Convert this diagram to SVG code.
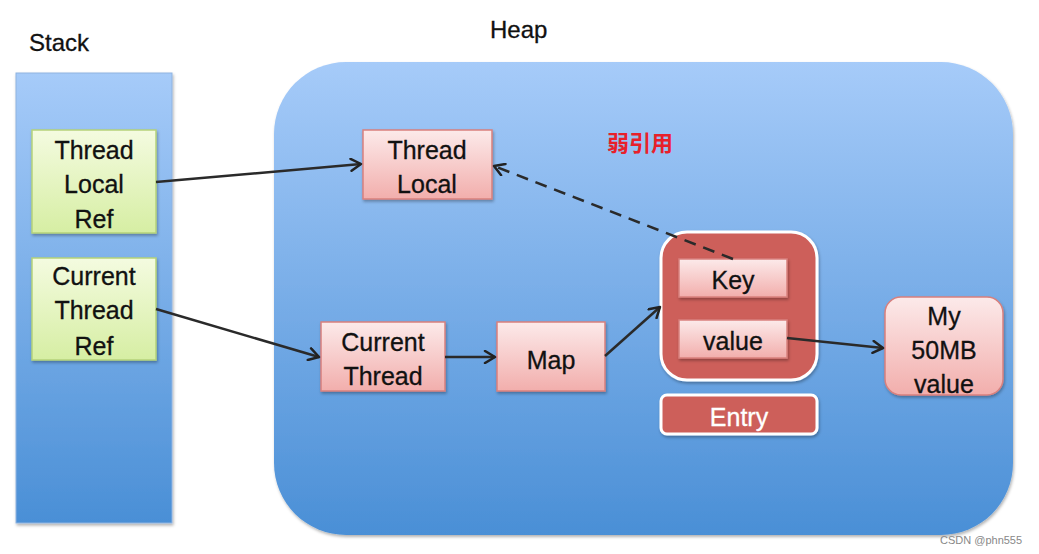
<svg xmlns="http://www.w3.org/2000/svg" width="1039" height="554" viewBox="0 0 1039 554">
<defs>
<linearGradient id="blue" x1="0" y1="0" x2="0" y2="1">
<stop offset="0" stop-color="#a6cbf9"/>
<stop offset="1" stop-color="#4a8fd6"/>
</linearGradient>
<linearGradient id="green" x1="0" y1="0" x2="0" y2="1">
<stop offset="0" stop-color="#f4fbe0"/>
<stop offset="1" stop-color="#d6eea3"/>
</linearGradient>
<linearGradient id="pink" x1="0" y1="0" x2="0" y2="1">
<stop offset="0" stop-color="#fceaea"/>
<stop offset="1" stop-color="#f2aeac"/>
</linearGradient>
<filter id="sh" x="-10%" y="-10%" width="130%" height="130%">
<feDropShadow dx="1" dy="2" stdDeviation="1.5" flood-color="#000" flood-opacity="0.3"/>
</filter>
<marker id="ah" markerWidth="14" markerHeight="14" refX="12" refY="7" orient="auto" markerUnits="userSpaceOnUse">
<path d="M2,1 L12,7 L2,13" fill="none" stroke="#222" stroke-width="2.5" stroke-linecap="round" stroke-linejoin="round"/>
</marker>
</defs>
<style>
.t{font-family:"Liberation Sans",Arial,sans-serif;font-size:25px;fill:#111;text-anchor:middle;stroke:#111;stroke-width:0.3}
.lbl{font-family:"Liberation Sans",Arial,sans-serif;font-size:24px;fill:#111;stroke:#111;stroke-width:0.3}
.g{fill:url(#green);stroke:#b5d27a;stroke-width:1.5}
.p{fill:url(#pink);stroke:#d9807d;stroke-width:1.5}
.e{fill:#cd5f5a;stroke:#fff;stroke-width:3}
.c{fill:none;stroke:#2a2a2a;stroke-width:2.5}
</style>
<rect width="1039" height="554" fill="#fff"/>
<g id="stack">
<rect x="16" y="73" width="156" height="450" fill="url(#blue)" stroke="#8fb3e0" stroke-width="1" filter="url(#sh)"/>
<text class="lbl" x="29" y="51">Stack</text>
</g>
<g id="heap">
<rect x="274" y="62" width="739" height="473" rx="72" fill="url(#blue)" filter="url(#sh)"/>
<text class="lbl" x="490" y="38">Heap</text>
<text x="607" y="151" font-family="'Noto Sans CJK SC',sans-serif" font-size="22" font-weight="bold" fill="#e8202a">弱引用</text>
</g>
<g id="threadLocalRef">
<rect class="g" x="32" y="130" width="124" height="103" filter="url(#sh)"/>
<text class="t" x="94" y="159">Thread</text>
<text class="t" x="94" y="193">Local</text>
<text class="t" x="94" y="228">Ref</text>
</g>
<g id="currentThreadRef">
<rect class="g" x="32" y="258" width="124" height="102" filter="url(#sh)"/>
<text class="t" x="94" y="285">Current</text>
<text class="t" x="94" y="319">Thread</text>
<text class="t" x="94" y="355">Ref</text>
</g>
<g id="threadLocal">
<rect class="p" x="363" y="130" width="129" height="69" filter="url(#sh)"/>
<text class="t" x="427" y="159">Thread</text>
<text class="t" x="427" y="193">Local</text>
</g>
<g id="currentThread">
<rect class="p" x="321" y="322" width="124" height="69" filter="url(#sh)"/>
<text class="t" x="383" y="351">Current</text>
<text class="t" x="383" y="385">Thread</text>
</g>
<g id="map">
<rect class="p" x="497" y="322" width="108" height="69" filter="url(#sh)"/>
<text class="t" x="551" y="369">Map</text>
</g>
<g id="entryBox">
<rect class="e" x="661" y="232" width="156" height="148" rx="26" filter="url(#sh)"/>
</g>
<g id="key">
<rect class="p" x="679" y="259" width="108" height="38" filter="url(#sh)"/>
<text class="t" x="733" y="289">Key</text>
</g>
<g id="value">
<rect class="p" x="679" y="320" width="108" height="38" filter="url(#sh)"/>
<text class="t" x="733" y="350">value</text>
</g>
<g id="entry">
<rect class="e" x="661" y="395" width="156" height="39" rx="6" filter="url(#sh)"/>
<text class="t" x="739" y="426" style="fill:#fff;stroke:#fff">Entry</text>
</g>
<g id="my50mb">
<rect class="p" x="885" y="297" width="118" height="98" rx="16" filter="url(#sh)"/>
<text class="t" x="944" y="325">My</text>
<text class="t" x="944" y="359">50MB</text>
<text class="t" x="944" y="393">value</text>
</g>
<g id="connectors">
<line class="c" x1="156" y1="182" x2="361" y2="164" marker-end="url(#ah)"/>
<line class="c" x1="156" y1="309" x2="319" y2="357" marker-end="url(#ah)"/>
<line class="c" x1="445" y1="357" x2="495" y2="357" marker-end="url(#ah)"/>
<line class="c" x1="605" y1="356" x2="660" y2="307" marker-end="url(#ah)"/>
<line class="c" x1="733" y1="259" x2="494" y2="166" stroke-dasharray="12,8" marker-end="url(#ah)"/>
<line class="c" x1="787" y1="338" x2="883" y2="348" marker-end="url(#ah)"/>
</g>
<text x="940" y="544" font-family="'Liberation Sans',Arial,sans-serif" font-size="11" fill="#888">CSDN @phn555</text>
</svg>
